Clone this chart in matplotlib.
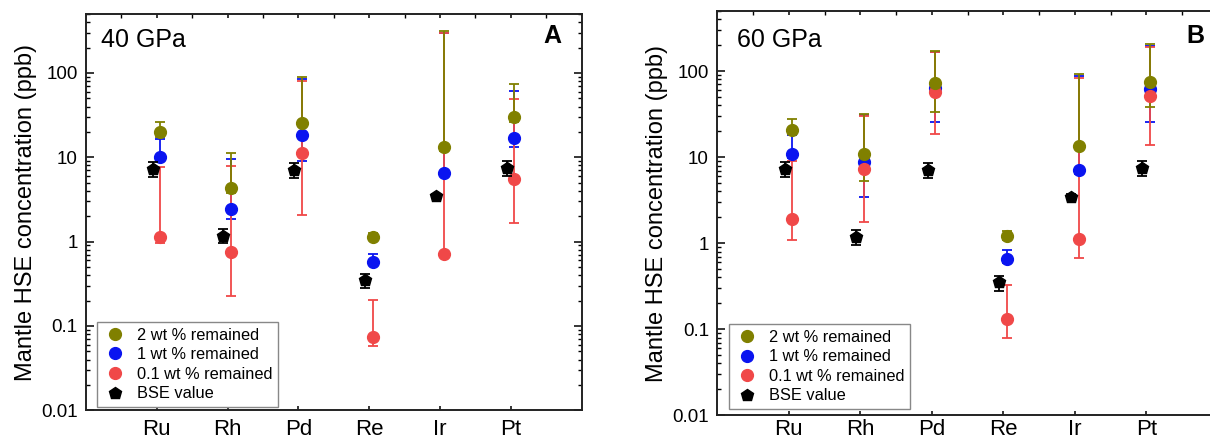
import matplotlib
matplotlib.use("Agg")
import matplotlib.pyplot as plt
from matplotlib.lines import Line2D
import numpy as np

plt.rcParams["font.family"] = ["Liberation Sans", "DejaVu Sans"]

elements = ["Ru", "Rh", "Pd", "Re", "Ir", "Pt"]
y_ticks = [0.01, 0.1, 1, 10, 100]
y_tick_labels = ["0.01", "0.1", "1", "10", "100"]

# 40 GPa (panel A): value, lower end, upper end of error bar
a_2wt = [19.7, 4.27, 25.8, 1.13, 13.3, 30.1]
a_2wt_lo = [17.5, 3.8, 17.0, 1.05, 12.0, 26.3]
a_2wt_hi = [26.1, 11.3, 90.6, 1.26, 314, 73.5]
a_1wt = [10.0, 2.43, 18.3, 0.574, 6.6, 17.1]
a_1wt_lo = [9.1, 1.88, 9.1, 0.53, 6.1, 13.3]
a_1wt_hi = [16.6, 9.5, 84.9, 0.708, 300, 61.2]
a_01wt = [1.12, 0.757, 11.1, 0.0738, 0.714, 5.46]
a_01wt_lo = [0.97, 0.228, 2.07, 0.0582, 0.66, 1.67]
a_01wt_hi = [7.7, 7.9, 79.7, 0.204, 300, 49.2]

# 60 GPa (panel B)
b_2wt = [20.6, 10.8, 72.0, 1.21, 13.6, 75.1]
b_2wt_lo = [18.5, 5.24, 33.1, 1.10, 12.3, 38.5]
b_2wt_hi = [27.7, 31.7, 171, 1.40, 92.3, 204]
b_1wt = [10.8, 8.85, 63.0, 0.65, 7.08, 62.3]
b_1wt_lo = [9.8, 3.44, 25.6, 0.59, 6.4, 25.3]
b_1wt_hi = [17.9, 30.6, 169, 0.834, 88.4, 197]
b_01wt = [1.91, 7.27, 56.6, 0.132, 1.11, 51.2]
b_01wt_lo = [1.10, 1.76, 18.6, 0.0786, 0.68, 13.9]
b_01wt_hi = [9.08, 30.3, 167, 0.327, 82.9, 190]

# bulk silicate earth
bse = [7.25, 1.18, 7.05, 0.35, 3.46, 7.45]
bse_lo = [5.9, 0.955, 5.7, 0.28, 3.25, 6.05]
bse_hi = [8.8, 1.41, 8.5, 0.415, 3.7, 8.95]

OLIVE = "#808000"
BLUE = "#0a14f0"
RED = "#f04848"
labels = ["2 wt % remained", "1 wt % remained", "0.1 wt % remained", "BSE value"]
MS = 8.5


def yerr(v, lo, hi):
    v = np.array(v)
    return [v - np.array(lo), np.array(hi) - v]


def draw_panel(ax, series, panel_text, letter, text_pos, letter_pos, leg_anchor, xpad):
    x = np.arange(1, len(elements) + 1)
    xc = x + 0.05
    xb = x - 0.06
    # error bars first (blue, red, olive), markers on top in same order
    for vals, lo, hi, col in series:
        ax.errorbar(xc, vals, yerr=yerr(vals, lo, hi), fmt="none", ecolor=col,
                    elinewidth=1.3, capsize=3.8, capthick=1.3, zorder=2)
    for vals, lo, hi, col in series:
        ax.plot(xc, vals, "o", color=col, markersize=MS, zorder=3)
    ax.errorbar(xb, bse, yerr=yerr(bse, bse_lo, bse_hi), fmt="p", color="black",
                ecolor="black", markersize=MS + 0.5, elinewidth=1.3, capsize=3.8,
                capthick=1.3, zorder=4)

    ax.set_yscale("log")
    ax.set_ylim(0.01, 500)
    ax.set_xlim(0, 7)
    ax.set_xticks(x)
    ax.set_xticklabels(elements, fontsize=16)
    ax.set_xticks(np.arange(0.5, 7, 1.0), minor=True)
    ax.set_yticks(y_ticks)
    ax.set_yticklabels(y_tick_labels, fontsize=13.5)
    ax.set_ylabel("Mantle HSE concentration (ppb)", fontsize=17, labelpad=3)

    ax.tick_params(axis="y", which="major", direction="in", length=6, width=1.1,
                   left=True, right=True, pad=6)
    ax.tick_params(axis="y", which="minor", direction="in", length=3.2, width=1.0,
                   left=True, right=True)
    ax.tick_params(axis="x", which="major", direction="in", length=3, width=1.1,
                   top=True, bottom=True, pad=xpad)
    ax.tick_params(axis="x", which="minor", direction="in", length=3, width=1.0,
                   top=True, bottom=False)
    for s in ax.spines.values():
        s.set_linewidth(1.4)
        s.set_color("#222222")

    ax.text(text_pos[0], text_pos[1], panel_text, transform=ax.transAxes,
            fontsize=18, va="baseline", ha="left")
    ax.text(letter_pos[0], letter_pos[1], letter, transform=ax.transAxes,
            fontsize=18, fontweight="bold", va="baseline", ha="right")

    handles = [Line2D([], [], ls="none", marker="o", color=OLIVE, markersize=MS),
               Line2D([], [], ls="none", marker="o", color=BLUE, markersize=MS),
               Line2D([], [], ls="none", marker="o", color=RED, markersize=MS),
               Line2D([], [], ls="none", marker="p", color="black", markersize=MS + 0.5)]
    leg = ax.legend(handles, labels, loc="lower left", bbox_to_anchor=leg_anchor,
                    borderaxespad=0, fontsize=11.8, handlelength=1.5,
                    handletextpad=0.6, labelspacing=0.28, borderpad=0.35,
                    fancybox=False, framealpha=1)
    leg.get_frame().set_edgecolor("#888888")
    leg.get_frame().set_linewidth(1.0)


fig = plt.figure(figsize=(12.1, 4.42), dpi=100)
W, H = 1210, 442
ax1 = fig.add_axes([86 / W, (H - 410.3) / H, (581.7 - 86) / W, (410.3 - 14) / H])
ax2 = fig.add_axes([717.3 / W, (H - 415.3) / H, (1218 - 717.3) / W, (415.3 - 11) / H])

draw_panel(ax1,
           [(a_1wt, a_1wt_lo, a_1wt_hi, BLUE),
            (a_01wt, a_01wt_lo, a_01wt_hi, RED),
            (a_2wt, a_2wt_lo, a_2wt_hi, OLIVE)],
           "40 GPa", "A", (0.03, 0.916), (0.958, 0.926), (0.022, 0.008), 6)
draw_panel(ax2,
           [(b_1wt, b_1wt_lo, b_1wt_hi, BLUE),
            (b_01wt, b_01wt_lo, b_01wt_hi, RED),
            (b_2wt, b_2wt_lo, b_2wt_hi, OLIVE)],
           "60 GPa", "B", (0.039, 0.912), (0.972, 0.920), (0.023, 0.015), 3)

fig.savefig("out.png", dpi=100)
